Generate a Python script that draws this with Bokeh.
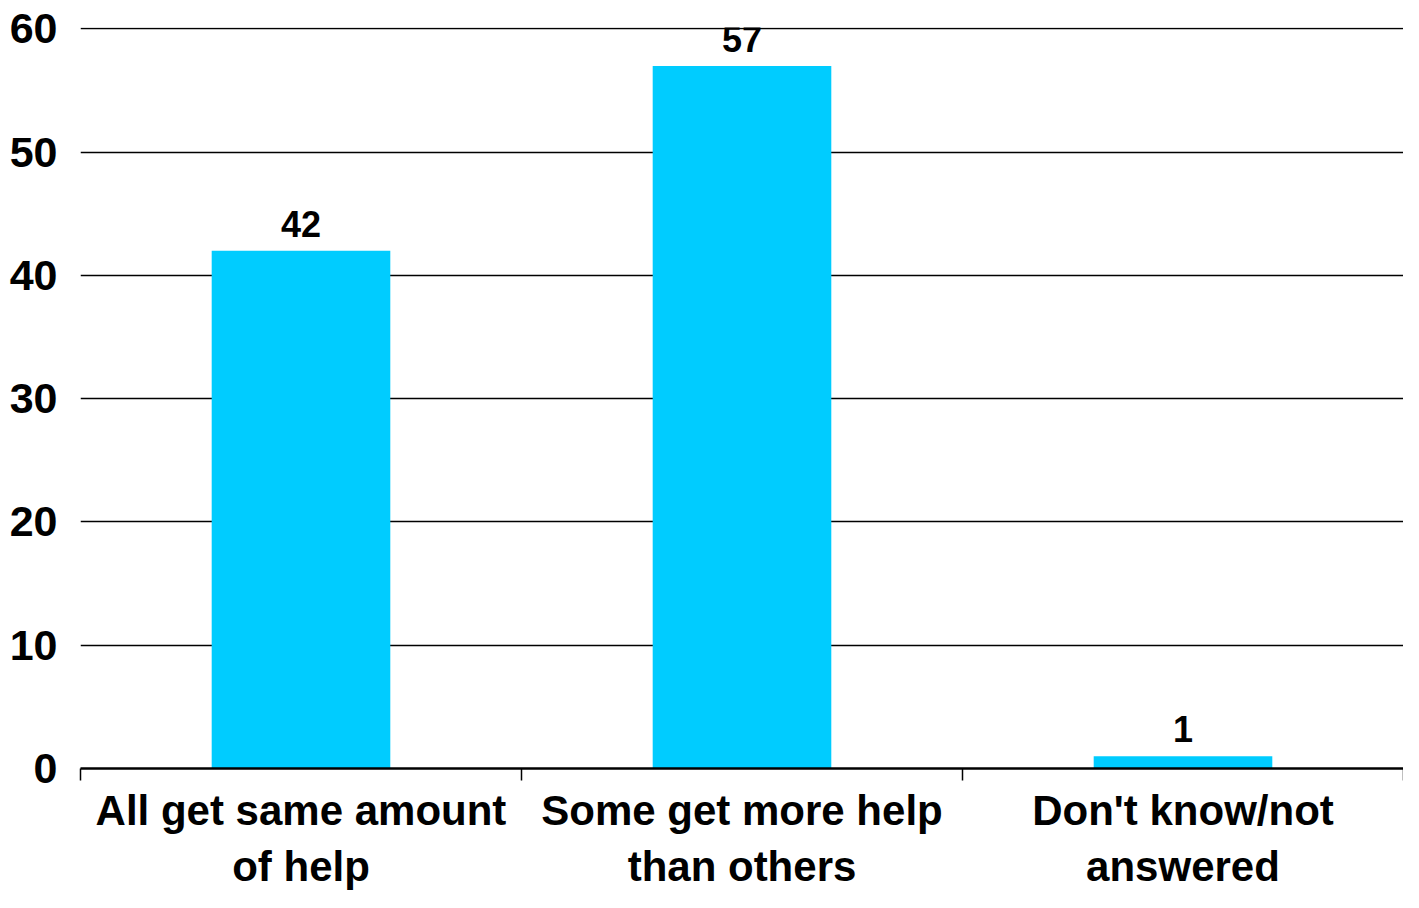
from bokeh.plotting import figure
from bokeh.models import ColumnDataSource, FixedTicker, Range1d, LabelSet
from bokeh.core.properties import value
from bokeh.embed import file_html
from bokeh.resources import INLINE

categories = ["All get same amount\nof help", "Some get more help\nthan others", "Don't know/not\nanswered"]
values = [42, 57, 1]
y_ticks = [0, 10, 20, 30, 40, 50, 60]

FONT = "Liberation Sans"
BAR_COLOR = "#00CCFF"

xs = [i + 0.5 for i in range(len(categories))]
src = ColumnDataSource(dict(x=xs, top=values, label=[str(v) for v in values]))

p = figure(width=1403, height=892, output_backend="svg", toolbar_location=None,
           x_range=Range1d(0, len(categories)), y_range=Range1d(0, 60.12),
           min_border_left=80, min_border_right=0, min_border_top=27, min_border_bottom=110)
p.outline_line_color = None
p.background_fill_color = "white"
p.border_fill_color = "white"

p.vbar(x="x", top="top", width=0.405, bottom=0, source=src, fill_color=BAR_COLOR, line_color=None)
labels = LabelSet(x="x", y="top", text="label", source=src, text_align="center", text_baseline="bottom",
                  y_offset=14, text_font=value(FONT), text_font_style="bold", text_font_size="36px",
                  text_color="black")
p.add_layout(labels)

# grid
p.xgrid.grid_line_color = None
p.ygrid.grid_line_color = "black"
p.ygrid.grid_line_width = 1.5
p.ygrid.level = "underlay"
p.ygrid.ticker = FixedTicker(ticks=y_ticks)

# y axis
p.yaxis.ticker = FixedTicker(ticks=y_ticks)
p.yaxis.axis_line_color = None
p.yaxis.major_tick_line_color = None
p.yaxis.minor_tick_line_color = None
p.yaxis.major_label_text_font = FONT
p.yaxis.major_label_text_font_style = "bold"
p.yaxis.major_label_text_font_size = "43px"
p.yaxis.major_label_text_color = "black"
p.yaxis.major_label_standoff = 17

# x axis
p.xaxis.ticker = FixedTicker(ticks=xs, minor_ticks=list(range(len(categories) + 1)))
p.xaxis.major_label_overrides = {x: c for x, c in zip(xs, categories)}
p.xaxis.axis_line_color = "black"
p.xaxis.axis_line_width = 2.5
p.xaxis.major_tick_line_color = None
p.xaxis.minor_tick_line_color = "black"
p.xaxis.minor_tick_line_width = 1.5
p.xaxis.minor_tick_out = 12
p.xaxis.minor_tick_in = 0
p.xaxis.major_label_text_font = FONT
p.xaxis.major_label_text_font_style = "bold"
p.xaxis.major_label_text_font_size = "42px"
p.xaxis.major_label_text_color = "black"
p.xaxis.major_label_text_line_height = 1.2
p.xaxis.major_label_standoff = 6

open("out.html", "w").write(file_html(p, INLINE))
